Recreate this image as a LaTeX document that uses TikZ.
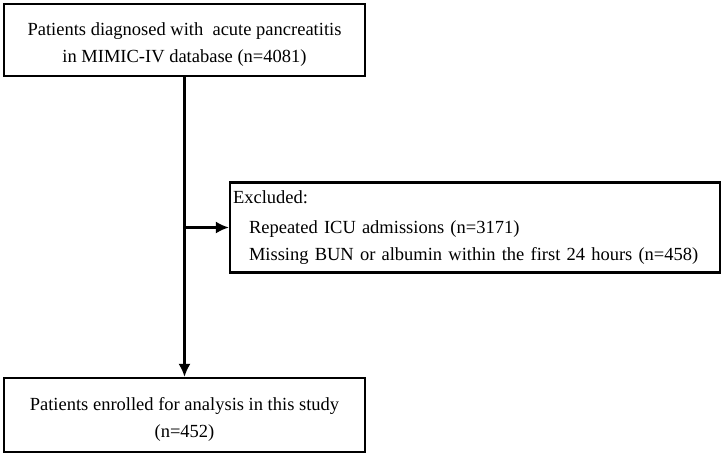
\documentclass[tikz,border=0pt]{standalone}
\usepackage{fontspec}
\setmainfont{Liberation Serif}
\usepackage{tikz}
\usetikzlibrary{arrows.meta,positioning}

\begin{document}
\begin{tikzpicture}[x=1pt,y=-1pt,font=\fontsize{18.5}{26.5}\selectfont,>={Latex[length=13pt,width=12pt]},
  box/.style={draw,line width=2.2pt,align=center,inner sep=0pt},
  link/.style={line width=2.2pt}]
\useasboundingbox (0,0) rectangle (725,459);
\node[box,minimum width=361,minimum height=72,text height=48pt] (identified) at (184.5,40)
  {Patients diagnosed with\ \ acute pancreatitis\\in MIMIC-IV database (n=4081)};
\node[box,align=left,text width=484,minimum height=90,inner sep=3pt] (excluded) at (475,227.5)
  {Excluded:\\[4pt]
   \hspace*{16pt}Repeated ICU admissions (n=3171)\\
   \hspace*{16pt}Missing BUN or albumin within the first 24 hours (n=458)};
\node[box,minimum width=361,minimum height=74,text height=48pt] (enrolled) at (184.5,415)
  {Patients enrolled for analysis in this study\\(n=452)};
\coordinate (branch) at (identified.south |- excluded.west);
\draw[link,->] (identified.south) -- (enrolled.north);
\draw[link,->] (branch) -- (excluded.west);
\end{tikzpicture}
\end{document}
